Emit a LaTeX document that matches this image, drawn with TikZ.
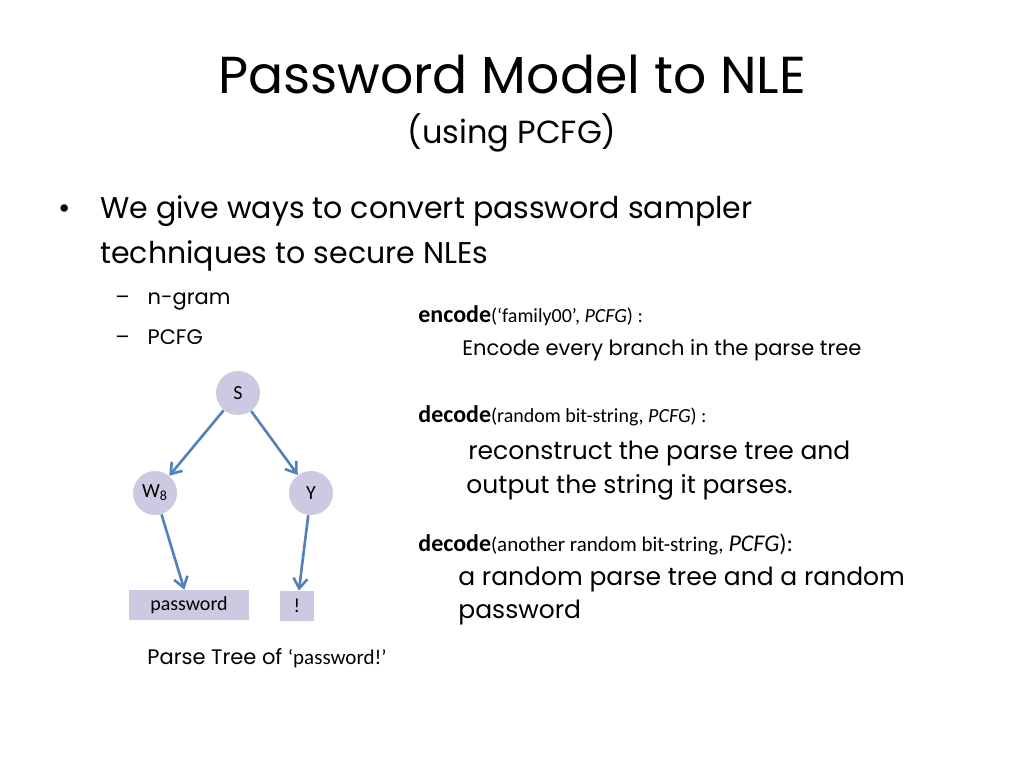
\documentclass[tikz,border=0pt]{standalone}
\usepackage{fontspec}
\setmainfont{Poppins}
\newfontfamily\calib{Carlito}
\usetikzlibrary{positioning, arrows.meta}
\definecolor{lav}{RGB}{205,201,226}
\definecolor{edgeblue}{RGB}{79,129,189}
\begin{document}
\begin{tikzpicture}[x=0.5pt,y=-0.5pt,
  tnode/.style={circle,fill=lav,minimum size=22pt,inner sep=0pt,font=\calib\fontsize{10}{12}\selectfont},
  leaf/.style={rectangle,fill=lav,minimum height=15pt,inner sep=3pt,font=\calib\fontsize{10}{12}\selectfont},
  edge/.style={-{Straight Barb[length=5pt,width=7pt]},edgeblue,line width=1.3pt},
  txt/.style={anchor=base west,inner sep=0pt}]
\useasboundingbox (0,0) rectangle (1024,768);

% Title
\node[inner sep=0pt,anchor=base,font=\fontsize{26}{30}\selectfont] (title) at (512,93) {Password Model to NLE};
\node[inner sep=0pt,anchor=base,font=\fontsize{16}{20}\selectfont] (subtitle) at (512,143) {(using PCFG)};

% Bullets
\node[txt,font=\fontsize{15}{18}\selectfont] (dot) at (58,218) {•};
\node[txt,font=\fontsize{15}{18}\selectfont] (l1) at (100,218) {We give ways to convert password sampler};
\node[txt,font=\fontsize{15}{18}\selectfont] (l2) at (100,263) {techniques to secure NLEs};
\node[txt,font=\fontsize{10.5}{13}\selectfont] (s1) at (115,304) {–\hspace{9pt}n-gram};
\node[txt,font=\fontsize{10.5}{13}\selectfont] (s2) at (115,344) {–\hspace{9pt}PCFG};

% Tree
\node[tnode] (S) at (238,393) {S};
\node[tnode] (W) at (155,493) {W\textsubscript{8}};
\node[tnode] (Y) at (311,493) {Y};
\node[leaf,minimum width=60pt] (pw) at (189,605) {password};
\node[leaf,minimum width=17pt] (ex) at (297,606) {!};
\draw[edge] (S) -- (W);
\draw[edge] (S) -- (Y);
\draw[edge] (W) -- (pw);
\draw[edge] (Y) -- (ex);
\node[txt,font=\fontsize{10.5}{13}\selectfont] (cap) at (147,664) {Parse Tree of {\calib ‘password!’}};

% Encode / decode
\node[txt,font=\calib\fontsize{10}{12}\selectfont] (enc) at (418,322) {{\fontsize{12}{14}\selectfont\bfseries encode}({\fontsize{10}{12}\selectfont ‘family00’, \itshape PCFG}) :};
\node[txt,font=\fontsize{10.5}{13}\selectfont] (enc2) at (462,355) {Encode every branch in the parse tree};
\node[txt,font=\calib\fontsize{10}{12}\selectfont] (dec) at (418,422) {{\fontsize{12}{14}\selectfont\bfseries decode}(random bit-string, {\itshape PCFG}) :};
\node[txt,font=\fontsize{12.5}{15}\selectfont] (dec2) at (468,459) {reconstruct the parse tree and};
\node[txt,font=\fontsize{12.5}{15}\selectfont] (dec3) at (466,493) {output the string it parses.};
\node[txt,font=\calib\fontsize{10}{12}\selectfont] (dec4) at (418,551) {{\fontsize{12}{14}\selectfont\bfseries decode}({\fontsize{10.5}{12}\selectfont another random bit-string, }{\fontsize{12}{14}\selectfont\itshape PCFG}{\fontsize{12}{14}\selectfont ):}};
\node[txt,font=\fontsize{12.5}{15}\selectfont] (dec5) at (458,585) {a random parse tree and a random};
\node[txt,font=\fontsize{12.5}{15}\selectfont] (dec6) at (458,618) {password};
\end{tikzpicture}
\end{document}
